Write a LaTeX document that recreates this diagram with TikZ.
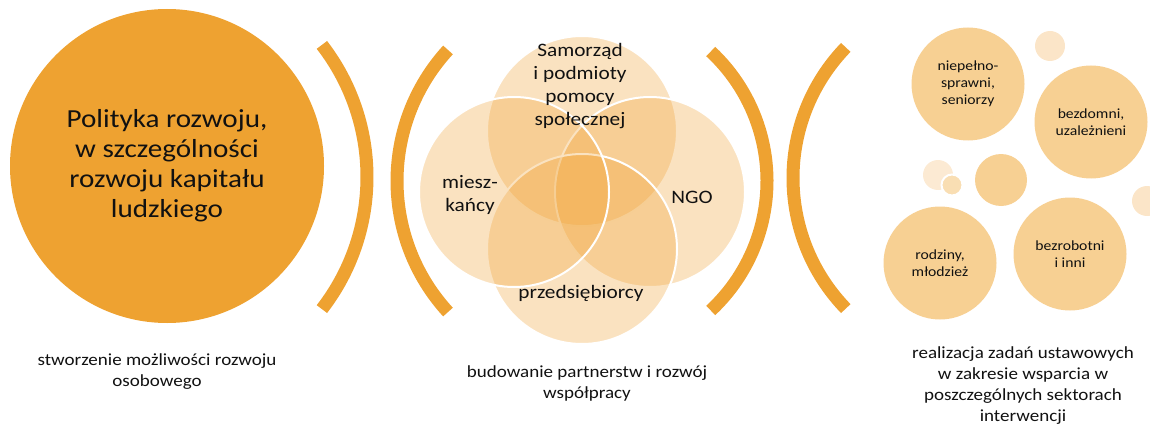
\documentclass[tikz,border=0pt]{standalone}
\usepackage{fontspec}
\setmainfont{Carlito}[FakeStretch=1.12]
\definecolor{orng}{HTML}{EEA231}
\definecolor{venn}{HTML}{F0A030}
\definecolor{pale}{HTML}{F7D093}
\definecolor{faint}{HTML}{FBE5C8}
\definecolor{txt}{HTML}{111111}
\begin{document}
\begin{tikzpicture}[x=1pt,y=-1pt,
  bracket/.style={draw=orng,line width=13pt,line cap=butt},
  vcirc/.style={circle,minimum size=190pt,inner sep=0pt,fill=venn,fill opacity=0.3,draw=white,draw opacity=1,line width=2pt},
  pcirc/.style={circle,minimum size=113pt,inner sep=0pt,fill=pale,text=txt,align=center,font=\fontsize{14}{17}\selectfont},
  vlabel/.style={text=txt,align=center,font=\fontsize{19}{23}\selectfont,inner sep=0pt},
  caption/.style={text=txt,align=center,font=\fontsize{17}{21}\selectfont,inner sep=0pt}]
\useasboundingbox (0,0) rectangle (1150,425);
% left part
\node[circle,minimum size=314pt,inner sep=0pt,fill=orng,text=txt,align=center,
  font=\fontsize{26}{30}\selectfont] (big) at (167,166)
  {Polityka rozwoju,\\w szczególności\\rozwoju kapitału\\ludzkiego};
\draw[bracket] (151,177) ++(-37.7:216) arc[start angle=-37.7,end angle=37.7,radius=216];
\node[caption] (cap1) at (157,372) {stworzenie możliwości rozwoju\\osobowego};
% Venn
\node[vcirc] (vtop) at (582,131) {};
\node[vcirc] (vright) at (650,192) {};
\node[vcirc] (vbot) at (582,249) {};
\node[vcirc] (vleft) at (514,192) {};
\node[vlabel] (ltop) at (580,86) {Samorząd\\i podmioty\\pomocy\\społecznej};
\node[vlabel] (lngo) at (692,197) {NGO};
\node[vlabel] (lmie) at (470,195) {miesz-\\kańcy};
\node[vlabel] (lprz) at (581,293) {przedsiębiorcy};
\draw[bracket] (591,181) ++(137.5:194) arc[start angle=137.5,end angle=222.5,radius=194];
\draw[bracket] (590,181) ++(-47:177) arc[start angle=-47,end angle=47,radius=177];
\node[caption] (cap2) at (587,383) {budowanie partnerstw i rozwój\\współpracy};
% right part
\draw[bracket] (981,178) ++(136:188) arc[start angle=136,end angle=224,radius=188];
\node[circle,minimum size=30pt,inner sep=0pt,fill=faint] (f1) at (1050,46) {};
\node[circle,minimum size=30pt,inner sep=0pt,fill=faint] (f2) at (1147,201) {};
\node[circle,minimum size=30pt,inner sep=0pt,fill=faint!80!white] (f3) at (938,175) {};
\node[circle,minimum size=21pt,inner sep=0pt,fill=pale!70!white,draw=white,line width=2pt] (f4) at (952,185) {};
\node[circle,minimum size=52pt,inner sep=0pt,fill=pale] (mid) at (1001,180) {};
\node[pcirc] (c1) at (968,84) {niepełno-\\sprawni,\\seniorzy};
\node[pcirc] (c2) at (1091,122) {bezdomni,\\uzależnieni};
\node[pcirc] (c3) at (940,263) {rodziny,\\młodzież};
\node[pcirc] (c4) at (1070,254) {bezrobotni\\i inni};
\node[caption] (cap3) at (1023,386) {realizacja zadań ustawowych\\w zakresie wsparcia w\\poszczególnych sektorach\\interwencji};
\end{tikzpicture}
\end{document}
